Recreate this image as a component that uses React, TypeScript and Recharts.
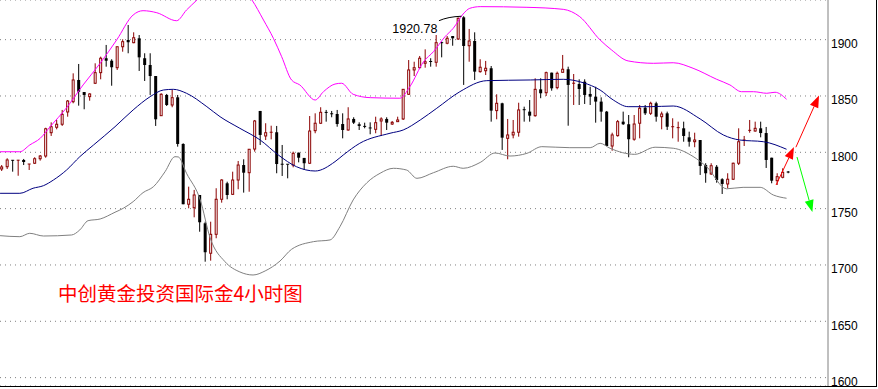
import React from 'react';
import {
  ComposedChart,
  Bar,
  Line,
  XAxis,
  YAxis,
  CartesianGrid,
  ReferenceLine,
} from 'recharts';

const W = 878;
const H = 389;

// Y axis ticks (price)
const priceTicks = [1600, 1650, 1700, 1750, 1800, 1850, 1900];

// 4h candles (index 0 = leftmost)
const openP = [
  1785.2, 1787.2, 1792.9, 1792.5, 1793.2, 1789.1, 1790.3, 1794.3, 1796.7, 1817.4, 1822.2, 1824.9,
  1835.8, 1844.9, 1864.2, 1853.5, 1849.4, 1861.3, 1870.7, 1883.5, 1881.3, 1875.1, 1893.7, 1899.7,
  1897.3, 1901.2, 1883.5, 1877.5, 1867.7, 1832.5, 1850.9, 1842.0, 1848.8, 1807.4, 1753.9, 1750.8,
  1762.1, 1737.0, 1710.4, 1727.2, 1758.3, 1772.5, 1762.7, 1775.4, 1788.7, 1781.9, 1802.9, 1836.7,
  1814.5, 1817.4, 1817.8, 1789.4, 1789.4, 1788.7, 1799.7, 1795.0, 1790.3, 1819.2, 1825.8, 1835.4,
  1834.2, 1834.0, 1825.1, 1819.8, 1829.6, 1824.9, 1823.0, 1821.6, 1820.4, 1827.8, 1829.6, 1825.1,
  1827.2, 1829.6, 1851.5, 1873.1, 1875.1, 1879.0, 1880.6, 1879.9, 1897.3, 1896.8, 1903.2, 1900.6,
  1919.8, 1894.6, 1898.8, 1871.6, 1872.4, 1874.6, 1837.0, 1843.5, 1812.4, 1815.4, 1817.8, 1837.8,
  1836.1, 1832.5, 1855.9, 1852.9, 1870.7, 1857.4, 1871.0, 1873.7, 1860.9, 1860.6, 1862.7, 1851.8,
  1849.4, 1845.0, 1836.1, 1805.6, 1814.8, 1827.2, 1824.9, 1811.6, 1825.8, 1839.6, 1834.6, 1843.5,
  1831.6, 1834.6, 1822.2, 1821.6, 1821.3, 1813.3, 1809.4, 1810.9, 1788.7, 1780.8, 1787.2, 1776.1,
  1771.9, 1776.1, 1790.3, 1810.5, 1818.3, 1818.9, 1821.3, 1817.1, 1795.2, 1774.8, 1777.8, 1782.5,
];
const highP = [
  1788.7, 1794.7, 1793.2, 1793.2, 1794.1, 1789.6, 1795.6, 1797.6, 1821.8, 1826.6, 1828.7, 1837.6,
  1846.4, 1870.1, 1878.4, 1853.5, 1852.4, 1879.0, 1884.9, 1895.3, 1882.6, 1893.7, 1900.3, 1913.0,
  1906.5, 1904.1, 1887.9, 1887.9, 1867.7, 1852.4, 1851.8, 1855.3, 1850.9, 1808.0, 1769.5, 1766.6,
  1762.1, 1738.4, 1738.4, 1768.1, 1776.1, 1773.9, 1782.8, 1792.3, 1793.8, 1802.9, 1828.7, 1836.7,
  1825.8, 1823.6, 1823.4, 1806.5, 1789.4, 1800.6, 1799.7, 1795.0, 1832.2, 1834.6, 1840.0, 1837.6,
  1836.7, 1837.6, 1834.6, 1840.0, 1831.1, 1826.6, 1826.3, 1826.6, 1831.6, 1831.1, 1831.1, 1827.8,
  1831.6, 1855.9, 1881.9, 1880.4, 1885.5, 1891.4, 1883.5, 1904.1, 1898.2, 1903.2, 1903.2, 1919.6,
  1920.78, 1909.5, 1906.5, 1882.6, 1881.1, 1876.6, 1851.5, 1844.0, 1829.6, 1828.7, 1844.0, 1840.5,
  1846.4, 1865.7, 1865.7, 1871.6, 1870.7, 1871.6, 1886.4, 1876.0, 1869.5, 1864.8, 1864.8, 1858.2,
  1858.2, 1848.8, 1836.7, 1817.4, 1828.7, 1836.1, 1833.1, 1833.1, 1842.0, 1842.0, 1844.9, 1844.9,
  1836.1, 1836.1, 1830.2, 1827.2, 1827.2, 1818.3, 1817.4, 1810.9, 1790.3, 1790.3, 1788.7, 1777.0,
  1781.4, 1790.8, 1821.3, 1814.5, 1828.7, 1827.2, 1827.2, 1822.5, 1795.2, 1781.4, 1785.8, 1783.4,
];
const lowP = [
  1783.4, 1785.2, 1782.8, 1779.2, 1788.7, 1784.3, 1789.6, 1792.6, 1795.2, 1814.5, 1820.4, 1823.4,
  1831.6, 1843.5, 1841.4, 1838.2, 1845.8, 1860.6, 1864.8, 1876.0, 1859.1, 1873.1, 1889.3, 1887.9,
  1896.8, 1872.2, 1863.3, 1850.9, 1823.4, 1832.5, 1841.1, 1840.0, 1805.0, 1753.9, 1750.3, 1742.3,
  1729.5, 1702.9, 1703.8, 1723.7, 1755.3, 1758.3, 1762.1, 1767.2, 1764.2, 1765.0, 1800.6, 1806.5,
  1810.9, 1811.5, 1781.4, 1779.0, 1776.9, 1786.7, 1791.1, 1784.3, 1789.6, 1816.9, 1825.1, 1827.2,
  1831.1, 1822.7, 1812.4, 1819.2, 1825.1, 1819.8, 1821.3, 1816.0, 1816.9, 1814.5, 1819.8, 1824.3,
  1827.2, 1828.7, 1850.9, 1867.7, 1874.6, 1875.1, 1876.0, 1876.0, 1884.3, 1895.9, 1894.6, 1899.7,
  1859.8, 1880.4, 1864.2, 1870.7, 1868.6, 1827.2, 1829.3, 1802.1, 1793.8, 1812.4, 1813.9, 1827.2,
  1827.2, 1831.6, 1848.0, 1850.0, 1854.7, 1855.9, 1871.0, 1823.6, 1842.0, 1842.0, 1842.9, 1842.0,
  1826.3, 1827.2, 1805.6, 1801.4, 1813.9, 1824.3, 1795.6, 1810.3, 1812.4, 1833.1, 1833.1, 1827.2,
  1820.4, 1819.8, 1812.4, 1809.4, 1809.4, 1805.0, 1804.5, 1779.9, 1773.0, 1779.9, 1773.0, 1763.0,
  1768.1, 1775.4, 1788.7, 1805.6, 1817.4, 1818.3, 1813.3, 1786.1, 1772.5, 1771.0, 1776.9, 1781.4,
];
const closeP = [
  1787.0, 1793.2, 1792.5, 1793.0, 1791.4, 1789.6, 1794.3, 1796.7, 1820.9, 1822.7, 1824.9, 1833.7,
  1845.5, 1864.2, 1853.8, 1850.9, 1851.8, 1870.7, 1883.5, 1881.3, 1875.5, 1893.7, 1898.2, 1897.7,
  1901.7, 1884.3, 1877.5, 1867.7, 1829.3, 1851.5, 1842.0, 1848.5, 1807.4, 1753.9, 1758.3, 1762.1,
  1737.9, 1711.3, 1727.2, 1758.3, 1775.4, 1762.1, 1775.4, 1788.7, 1781.9, 1802.7, 1827.8, 1815.4,
  1817.4, 1817.8, 1789.6, 1789.0, 1789.0, 1799.1, 1795.2, 1790.3, 1818.9, 1825.8, 1835.5, 1834.9,
  1833.7, 1825.1, 1819.8, 1829.6, 1826.3, 1823.4, 1822.6, 1821.1, 1826.3, 1829.6, 1826.3, 1826.6,
  1828.7, 1855.9, 1873.1, 1875.1, 1883.5, 1880.4, 1880.2, 1897.3, 1896.1, 1901.2, 1901.2, 1919.0,
  1894.4, 1898.8, 1871.6, 1875.5, 1874.6, 1837.0, 1843.5, 1813.0, 1815.4, 1817.8, 1837.6, 1837.3,
  1832.5, 1855.9, 1852.4, 1870.7, 1856.8, 1870.1, 1873.7, 1859.8, 1861.3, 1856.2, 1850.9, 1849.4,
  1845.0, 1836.1, 1805.6, 1815.4, 1827.2, 1824.9, 1811.6, 1825.1, 1839.1, 1834.6, 1843.5, 1831.6,
  1834.0, 1822.7, 1822.7, 1821.9, 1814.5, 1809.4, 1810.9, 1787.9, 1781.4, 1788.1, 1775.4, 1771.9,
  1776.1, 1790.3, 1809.4, 1810.9, 1819.5, 1821.3, 1817.1, 1793.2, 1774.8, 1778.4, 1782.3, 1782.1,
];

// Bollinger bands, sampled along the curves (x in candle index units)
const upperAt = [
  -0.3, 3.3, 5.1, 7.0, 8.8, 11.8, 14.8, 17.9, 20.9, 23.9, 25.7, 28.2, 31.8, 33.6, 35.5, 38.8, 42.4,
  45.5, 47.6, 49.4, 50.9, 52.7, 54.2, 57.0, 58.5, 60.6, 61.8, 63.9, 67.0, 72.4, 74.2, 76.7, 78.5,
  80.6, 82.1, 83.9, 85.1, 87.0, 95.5, 102.1, 105.1, 108.8, 110.9, 113.9, 118.5, 122.1, 125.7, 130.0,
  132.4, 134.5, 136.7, 139.1, 140.6, 142.7,
];
const upperVal = [
  1800.5, 1800.5, 1806.5, 1812.4, 1822.7, 1839.6, 1859.8, 1879.0, 1899.7, 1921.9, 1925.7, 1923.9,
  1916.8, 1926.3, 1935.2, 1951.2, 1951.2, 1935.2, 1917.4, 1901.2, 1884.9, 1864.2, 1859.8, 1846.4,
  1853.8, 1860.6, 1861.3, 1851.5, 1848.5, 1848.0, 1858.2, 1880.4, 1889.3, 1902.6, 1910.1, 1922.8,
  1927.8, 1929.3, 1928.7, 1926.9, 1920.4, 1899.7, 1890.8, 1881.1, 1879.0, 1879.5, 1874.6, 1864.8,
  1859.8, 1853.8, 1853.8, 1852.4, 1853.3, 1847.1,
];
const midAt = [
  -0.3, 3.3, 5.7, 7.6, 9.4, 11.8, 14.2, 16.7, 20.6, 23.9, 27.0, 29.4, 31.2, 33.6, 37.3, 39.7, 43.3,
  47.0, 50.3, 53.6, 57.0, 60.6, 62.1, 65.1, 70.6, 73.0, 76.1, 79.1, 83.3, 88.2, 96.1, 102.1, 105.7,
  108.8, 111.2, 113.9, 117.9, 122.1, 127.0, 131.2, 134.2, 138.5, 142.7,
];
const midVal = [
  1763.6, 1763.6, 1768.1, 1770.4, 1775.4, 1784.3, 1796.1, 1806.5, 1822.7, 1837.6, 1849.4, 1855.3,
  1855.9, 1852.4, 1840.5, 1831.6, 1821.3, 1810.9, 1797.6, 1787.2, 1783.4, 1791.7, 1797.6, 1808.0,
  1816.9, 1819.8, 1828.7, 1839.1, 1853.8, 1863.6, 1864.2, 1864.8, 1861.8, 1855.3, 1846.4, 1840.5,
  1840.5, 1841.1, 1829.6, 1815.4, 1810.9, 1809.4, 1802.7,
];
const lowerAt = [
  -0.3, 3.3, 5.1, 7.6, 12.7, 14.2, 15.7, 17.9, 20.6, 22.1, 23.9, 25.7, 27.6, 29.7, 31.5, 32.1, 33.6,
  36.1, 37.9, 40.6, 43.3, 45.7, 47.9, 50.6, 52.7, 56.7, 59.7, 61.5, 63.9, 66.4, 68.8, 71.2, 73.6,
  75.5, 78.5, 82.1, 83.9, 87.0, 89.7, 92.4, 95.5, 98.2, 103.3, 107.0, 108.8, 110.6, 115.1, 118.8,
  122.1, 125.7, 128.2, 131.8, 134.8, 137.9, 140.3, 142.7,
];
const lowerVal = [
  1726.0, 1725.1, 1728.1, 1725.7, 1726.6, 1731.1, 1739.3, 1740.8, 1746.8, 1750.3, 1756.2, 1764.2,
  1769.5, 1782.8, 1796.1, 1795.9, 1781.4, 1757.7, 1724.0, 1702.9, 1693.8, 1691.1, 1694.7, 1703.5,
  1713.9, 1720.7, 1722.2, 1734.0, 1757.7, 1773.0, 1781.4, 1785.8, 1784.3, 1776.9, 1781.9, 1787.6,
  1785.8, 1791.0, 1799.4, 1796.7, 1799.1, 1805.0, 1804.1, 1804.1, 1808.0, 1803.6, 1798.2, 1804.5,
  1803.6, 1796.3, 1787.0, 1767.6, 1768.9, 1768.9, 1762.1, 1759.2,
];

// forecast arrows: start / tip in (candle index, price)
const arrowFromAt = [140.8, 144.4, 144.6];
const arrowFromVal = [1771.0, 1804.5, 1795.8];
const arrowToAt = [144.05, 148.6, 147.4];
const arrowToVal = [1804.7, 1850.4, 1747.0];
const arrowColors = ['#ff0000', '#ff0000', '#00ff00'];

// high marker
const highLabel = '1920.78';
const highFrom = { x: 79.5, y: 1916.8 };
const highTo = { x: 83.6, y: 1920.78 };

const candles = openP.map((o, i) => ({
  i,
  o,
  c: closeP[i],
  h: highP[i],
  l: lowP[i],
  range: [lowP[i], highP[i]],
}));

const toPoints = (at: number[], val: number[]) => at.map((i, k) => ({ i, v: val[k] }));
const upperBand = toPoints(upperAt, upperVal);
const midBand = toPoints(midAt, midVal);
const lowerBand = toPoints(lowerAt, lowerVal);

const UP = '#8b0000';
const DOWN = '#000000';
const FONT = "'Liberation Sans', Arial, sans-serif";

function Candle(props: any) {
  const { x, y, width, height, payload } = props;
  const { o, c, h, l } = payload;
  const top = Math.min(y, y + height);
  const span = Math.abs(height);
  const cx = x + width / 2;
  const py = (v: number) => (h === l ? top : top + ((h - v) / (h - l)) * span);
  const up = c >= o;
  const color = up ? UP : DOWN;
  const yo = py(o);
  const yc = py(c);
  const bTop = Math.min(yo, yc);
  const bH = Math.abs(yo - yc);
  let body;
  if (bH < 1.5) {
    body = <line x1={cx - 1.5} x2={cx + 1.5} y1={bTop} y2={bTop} stroke={color} />;
  } else if (up) {
    body = <rect x={cx - 1} y={bTop} width={2} height={bH} fill="#fff" stroke={color} />;
  } else {
    body = <rect x={cx - 1.5} y={bTop} width={3} height={bH} fill={color} />;
  }
  return (
    <g>
      <line x1={cx} x2={cx} y1={top} y2={top + span} stroke={color} />
      {body}
    </g>
  );
}

function PriceTick({ x, y, payload }: any) {
  return (
    <text x={x + 3} y={y + 8.5} fontSize={12} fontFamily={FONT} fill="#000">
      {payload.value}
    </text>
  );
}

function arrowShape(color: string) {
  return (p: any) => {
    const { x1, y1, x2, y2 } = p;
    const dx = x2 - x1;
    const dy = y2 - y1;
    const len = Math.sqrt(dx * dx + dy * dy) || 1;
    const ux = dx / len;
    const uy = dy / len;
    const bx = x2 - ux * 12;
    const by = y2 - uy * 12;
    const nx = -uy * 4.5;
    const ny = ux * 4.5;
    return (
      <g>
        <line x1={x1} y1={y1} x2={bx} y2={by} stroke={color} strokeWidth={1} />
        <polygon
          points={`${x2},${y2} ${bx + nx},${by + ny} ${bx - nx},${by - ny}`}
          fill={color}
        />
      </g>
    );
  };
}

function HighMarker(p: any) {
  const { x1, y1, x2, y2 } = p;
  return (
    <g>
      <path
        d={`M${x1},${y1} Q${x1 + 9},${y1 - 4} ${x2},${y2}`}
        fill="none"
        stroke="#000"
        strokeWidth={1}
      />
      <text x={x1 - 1.5} y={y1 + 12.3} textAnchor="end" fontSize={12.5} fontFamily={FONT} fill="#000">
        {highLabel}
      </text>
    </g>
  );
}

export default function App() {
  return (
    <div style={{ position: 'absolute', left: 0, top: 0, width: W, height: H, background: '#fff' }}>
      <ComposedChart
        width={W}
        height={H}
        data={candles}
        margin={{ top: 0, right: 0, bottom: 3, left: 0 }}
      >
        <CartesianGrid vertical={false} stroke="#808080" strokeDasharray="1 4" />
        <XAxis
          dataKey="i"
          type="number"
          domain={[-0.309, 150.236]}
          allowDataOverflow
          hide
        />
        <YAxis
          orientation="right"
          width={50}
          domain={[1592.56, 1935.19]}
          ticks={priceTicks}
          allowDataOverflow
          tickSize={0}
          tickMargin={0}
          tickLine={false}
          axisLine={{ stroke: '#808080' }}
          tick={<PriceTick />}
        />

        {/* Bollinger bands */}
        <Line data={upperBand} dataKey="v" type="monotone" stroke="#ff00ff" strokeWidth={1} dot={false} activeDot={false} isAnimationActive={false} />
        <Line data={midBand} dataKey="v" type="monotone" stroke="#000080" strokeWidth={1} dot={false} activeDot={false} isAnimationActive={false} />
        <Line data={lowerBand} dataKey="v" type="monotone" stroke="#808080" strokeWidth={1} dot={false} activeDot={false} isAnimationActive={false} />

        {/* candles */}
        <Bar dataKey="range" barSize={4} shape={Candle} activeBar={false} isAnimationActive={false} />

        <ReferenceLine segment={[highFrom, highTo]} ifOverflow="visible" shape={HighMarker} />

        {arrowFromAt.map((a, k) => (
          <ReferenceLine
            key={k}
            segment={[
              { x: a, y: arrowFromVal[k] },
              { x: arrowToAt[k], y: arrowToVal[k] },
            ]}
            ifOverflow="visible"
            shape={arrowShape(arrowColors[k])}
          />
        ))}
      </ComposedChart>

      <svg
        width={W}
        height={H}
        style={{ position: 'absolute', left: 0, top: 0, pointerEvents: 'none' }}
      >
        <line x1={0} x2={877} y1={386.5} y2={386.5} stroke="#000" />
        <line x1={876.5} x2={876.5} y1={0} y2={387} stroke="#000" />
        <text
          x={58}
          y={301}
          fontSize={19.5}
          fontFamily="'Noto Sans CJK SC', sans-serif"
          fill="#ff0000"
        >
          中创黄金投资国际金4小时图
        </text>
      </svg>
    </div>
  );
}
